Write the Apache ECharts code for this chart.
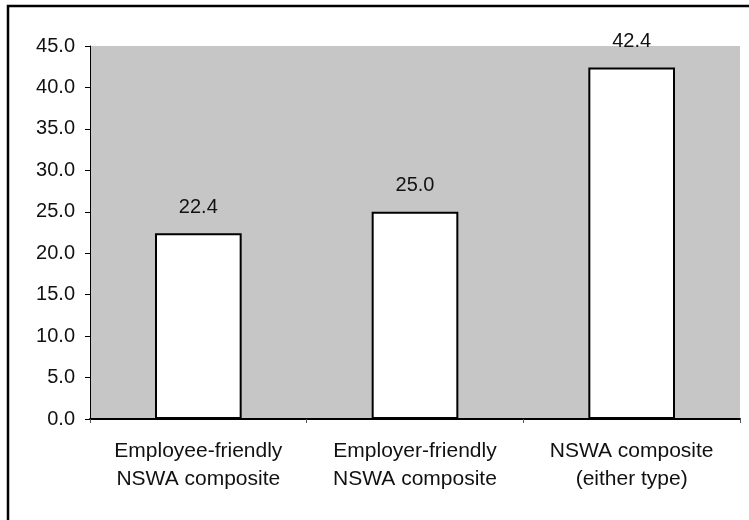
<!DOCTYPE html>
<html lang="en">
<head>
  <meta charset="UTF-8">
  <title>NSWA composite</title>
  <script src="https://cdn.jsdelivr.net/npm/echarts@6/dist/echarts.min.js"></script>
  <style>
    html, body { margin: 0; padding: 0; background: #fff; }
    #chart { width: 749px; height: 520px; }
  </style>
</head>
<body>
  <div id="chart"></div>
  <script>
    // data
    var categories = ['Employee-friendly\nNSWA composite', 'Employer-friendly\nNSWA composite', 'NSWA composite\n(either type)'];
    var values = [22.4, 25.0, 42.4];

    var chart = echarts.init(document.getElementById('chart'));
    chart.setOption({
      animation: false,
      backgroundColor: '#fff',
      textStyle: { fontFamily: 'Liberation Sans, Arial, sans-serif' },
      graphic: [{
        type: 'rect',
        shape: { x: 8, y: 6, width: 760, height: 530 },
        style: { fill: 'none', stroke: '#000', lineWidth: 2.5 },
        silent: true
      }],
      grid: {
        left: 90, right: 9, top: 46, bottom: 101,
        show: true, backgroundColor: '#c6c6c6', borderWidth: 0
      },
      xAxis: {
        type: 'category',
        data: categories,
        axisLine: { lineStyle: { color: '#000', width: 2 } },
        axisTick: { show: true, length: 4, lineStyle: { color: '#555' } },
        axisLabel: {
          interval: 0, hideOverlap: false,
          fontSize: 21, color: '#111', margin: 18, lineHeight: 28
        }
      },
      yAxis: {
        type: 'value',
        min: 0, max: 45, interval: 5,
        axisLine: { show: true, lineStyle: { color: '#000', width: 1 } },
        axisTick: { show: true, length: 5, lineStyle: { color: '#000' } },
        splitLine: { show: false },
        axisLabel: {
          fontSize: 20, color: '#111', margin: 15,
          formatter: function (v) { return v.toFixed(1); }
        }
      },
      series: [{
        type: 'bar',
        data: values,
        barWidth: '40%',
        itemStyle: { color: '#fff', borderColor: '#000', borderWidth: 2 },
        label: {
          show: true, position: 'top', distance: 16,
          fontSize: 20, color: '#111',
          formatter: function (p) { return p.value.toFixed(1); }
        }
      }]
    });
  </script>
</body>
</html>
